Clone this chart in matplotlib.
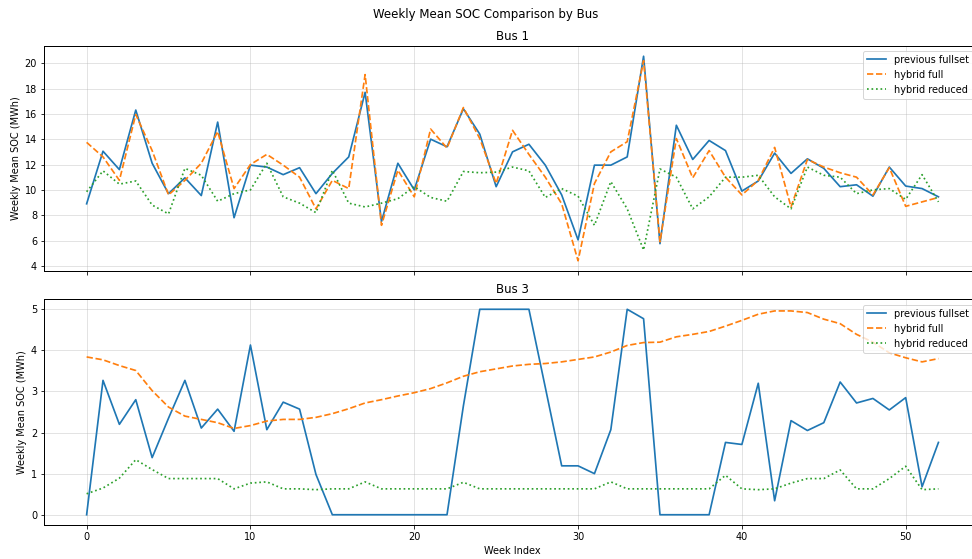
import numpy as np
import matplotlib
matplotlib.use("Agg")
import matplotlib.pyplot as plt

weeks = np.arange(53)

bus1_prev = [8.9, 13.05, 11.6, 16.3, 12.1, 9.7, 10.95, 9.55, 15.35, 7.8,
             11.95, 11.8, 11.2, 11.75, 9.7, 11.3, 12.6, 17.7, 7.5, 12.1,
             10.0, 14.0, 13.4, 16.4, 14.4, 10.25, 13.0, 13.6, 11.95, 9.6,
             6.05, 11.95, 11.95, 12.6, 20.55, 5.75, 15.1, 12.4, 13.9, 13.1,
             9.9, 10.7, 12.9, 11.3, 12.45, 11.7, 10.25, 10.4, 9.5, 11.8,
             10.3, 10.1, 9.45]
bus1_full = [13.75, 12.6, 10.75, 15.95, 13.1, 9.6, 10.75, 12.1, 14.6, 10.1,
             12.0, 12.8, 11.95, 11.0, 8.5, 10.75, 10.1, 19.1, 7.2, 11.55,
             9.45, 14.8, 13.3, 16.5, 14.05, 10.5, 14.7, 12.8, 11.0, 8.9,
             4.4, 10.5, 13.0, 13.8, 20.2, 5.9, 14.05, 10.95, 13.1, 11.0,
             9.6, 10.75, 13.35, 8.65, 12.4, 11.8, 11.35, 11.0, 9.6, 11.75,
             8.7, 9.05, 9.4]
bus1_reduced = [9.85, 11.5, 10.45, 10.7, 8.8, 8.1, 11.7, 11.15, 9.1, 9.7,
                10.0, 12.1, 9.45, 8.95, 8.2, 11.55, 8.95, 8.65, 8.95, 9.3,
                10.25, 9.4, 9.1, 11.45, 11.35, 11.4, 11.8, 11.5, 9.4, 10.1,
                9.5, 7.2, 10.65, 8.5, 5.25, 11.65, 11.0, 8.5, 9.45, 11.0,
                11.0, 11.15, 9.45, 8.5, 11.8, 11.15, 11.0, 9.7, 10.0, 10.1,
                9.25, 11.2, 9.05]

bus3_prev = [0.0, 3.27, 2.2, 2.8, 1.39, 2.35, 3.27, 2.11, 2.57, 2.03,
             4.13, 2.07, 2.74, 2.57, 0.98, 0.0, 0.0, 0.0, 0.0, 0.0,
             0.0, 0.0, 0.0, 2.65, 5.0, 5.0, 5.0, 5.0, 3.1, 1.19,
             1.19, 1.0, 2.07, 5.0, 4.77, 0.0, 0.0, 0.0, 0.0, 1.76,
             1.71, 3.2, 0.34, 2.29, 2.05, 2.24, 3.23, 2.72, 2.83, 2.55,
             2.85, 0.68, 1.76]
bus3_full = [3.84, 3.77, 3.63, 3.51, 3.02, 2.62, 2.4, 2.32, 2.24, 2.1,
             2.17, 2.28, 2.32, 2.32, 2.37, 2.46, 2.58, 2.72, 2.8, 2.89,
             2.97, 3.07, 3.21, 3.37, 3.48, 3.55, 3.62, 3.66, 3.68, 3.72,
             3.78, 3.84, 3.96, 4.12, 4.19, 4.2, 4.33, 4.39, 4.46, 4.59,
             4.73, 4.88, 4.96, 4.96, 4.92, 4.76, 4.65, 4.39, 4.2, 3.94,
             3.82, 3.72, 3.8]
bus3_reduced = [0.51, 0.65, 0.89, 1.34, 1.1, 0.88, 0.88, 0.88, 0.88, 0.63,
                0.77, 0.8, 0.63, 0.63, 0.61, 0.63, 0.63, 0.8, 0.63, 0.63,
                0.63, 0.63, 0.63, 0.79, 0.63, 0.63, 0.63, 0.63, 0.63, 0.63,
                0.63, 0.63, 0.8, 0.63, 0.63, 0.63, 0.63, 0.63, 0.63, 0.96,
                0.63, 0.61, 0.63, 0.77, 0.88, 0.88, 1.09, 0.63, 0.63, 0.88,
                1.18, 0.61, 0.63]

panels = [
    ("Bus 1", bus1_prev, bus1_full, bus1_reduced),
    ("Bus 3", bus3_prev, bus3_full, bus3_reduced),
]


def main():
    plt.rcParams["font.size"] = 9.8
    plt.rcParams["axes.linewidth"] = 1.0
    fig = plt.figure(figsize=(13.5, 559 / 72), dpi=72)
    ax_top = fig.add_axes([0.0453, 0.5152, 0.964, 0.4025])
    ax_bot = fig.add_axes([0.0453, 0.0608, 0.964, 0.4043], sharex=ax_top)
    axes = [ax_top, ax_bot]

    for ax, (name, prev, full, red) in zip(axes, panels):
        ax.plot(weeks, prev, "-", color="tab:blue", lw=1.7, label="previous fullset")
        ax.plot(weeks, full, "--", color="tab:orange", lw=1.7, label="hybrid full")
        ax.plot(weeks, red, ":", color="tab:green", lw=1.7, label="hybrid reduced")
        ax.set_title(name)
        ax.set_ylabel("Weekly Mean SOC (MWh)")
        ax.grid(alpha=0.35, lw=1.0)

    ax_top.tick_params(labelbottom=False)
    ax_bot.set_xlabel("Week Index")

    # legends hug the right edge of the figure, like the original
    ax_top.legend(loc="upper left", bbox_to_anchor=(858 / 972, 1 - 46 / 559),
                  bbox_transform=fig.transFigure)
    ax_bot.legend(loc="upper left", bbox_to_anchor=(858 / 972, 1 - 300 / 559),
                  bbox_transform=fig.transFigure)

    fig.suptitle("Weekly Mean SOC Comparison by Bus", y=0.985)
    fig.savefig("out.png", dpi=72)
    plt.close(fig)


if __name__ == "__main__":
    main()
